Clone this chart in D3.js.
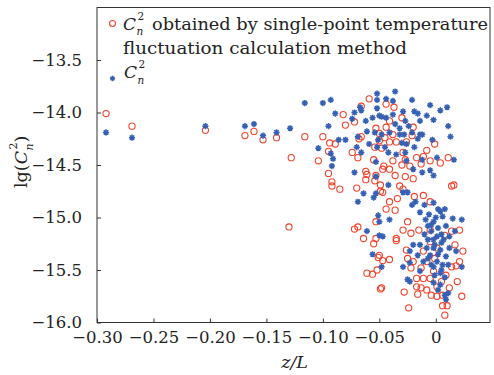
<!DOCTYPE html>
<html>
<head>
<meta charset="utf-8">
<script src="https://d3js.org/d3.v7.min.js"></script>
<style>
  body { margin: 0; background: #fff; }
  svg { display: block; font-family: "DejaVu Serif", serif; }
  .axis path, .axis line { stroke: #333; }
  .axis text { font-size: 16.5px; fill: #222; font-family: "DejaVu Serif", serif; }
</style>
</head>
<body>
<svg width="494" height="375"></svg>
<script>
// C_n^2 from single-point temperature fluctuation method (red circles)
var redZ = [-0.292,-0.269,-0.204,-0.169,-0.161,-0.153,-0.141,-0.128,-0.130,
  -0.059,-0.082,-0.080,-0.072,-0.116,-0.100,-0.094,-0.089,-0.066,-0.068,-0.053,
  -0.050,-0.095,-0.074,-0.069,-0.055,-0.104,-0.050,-0.045,-0.044,-0.037,-0.030,
  -0.041,-0.044,-0.020,-0.021,-0.038,-0.048,-0.041,-0.035,-0.026,-0.001,-0.008,
  -0.029,-0.011,-0.017,0.011,-0.027,-0.005,0.004,-0.038,-0.095,-0.092,-0.092,
  -0.085,-0.070,-0.062,-0.061,-0.062,-0.054,-0.053,-0.047,-0.049,-0.047,-0.053,
  -0.072,-0.069,-0.064,-0.046,-0.041,-0.030,-0.023,-0.013,-0.036,-0.027,-0.020,
  -0.049,-0.032,-0.029,0.014,0.016,-0.019,-0.011,-0.034,-0.041,-0.005,-0.036,
  -0.044,-0.025,-0.029,-0.022,-0.015,-0.005,0.008,0.014,0.021,-0.035,-0.053,
  -0.055,-0.050,-0.051,-0.061,-0.056,-0.052,-0.048,-0.049,-0.035,-0.041,-0.047,
  -0.026,-0.025,-0.022,0.017,0.024,0.021,0.019,0.012,0.023,-0.028,-0.017,-0.013,
  -0.016,-0.008,-0.004,0.001,0.001,0.006,-0.024,0.006,0.008,-0.011,-0.005,-0.017,
  -0.002,-0.013,-0.008,-0.020,-0.001,0.014,0.009,0.005,-0.005,0.001,-0.011,0.018,
  -0.066,-0.054,0.010];
var redLg = [-14.01,-14.13,-14.17,-14.22,-14.18,-14.26,-14.24,-14.43,-15.09,
  -13.87,-14.02,-14.12,-14.09,-14.23,-14.23,-14.29,-14.30,-14.23,-14.25,-14.15,
  -14.20,-14.37,-14.38,-14.43,-14.45,-14.46,-14.27,-14.24,-13.92,-13.95,-14.05,
  -14.08,-14.14,-14.14,-14.22,-14.21,-14.34,-14.28,-14.28,-14.28,-14.30,-14.36,
  -14.38,-14.42,-14.43,-14.43,-14.45,-14.46,-14.48,-14.46,-14.58,-14.66,-14.70,
  -14.73,-14.72,-14.56,-14.59,-14.64,-14.65,-14.60,-14.54,-14.75,-14.76,-15.04,
  -15.11,-15.09,-15.20,-14.51,-14.54,-14.50,-14.51,-14.49,-14.60,-14.61,-14.63,
  -14.69,-14.70,-14.73,-14.70,-14.69,-14.80,-14.79,-14.82,-14.85,-14.85,-14.93,
  -14.92,-15.04,-15.12,-15.15,-15.12,-15.12,-15.17,-15.13,-15.12,-15.20,-15.20,
  -15.25,-15.36,-15.38,-15.53,-15.54,-15.50,-15.67,-15.68,-15.22,-15.40,-15.41,
  -15.31,-15.39,-15.48,-15.26,-15.32,-15.42,-15.61,-15.67,-15.75,-15.71,-15.66,-15.67,
  -15.73,-15.69,-15.74,-15.66,-15.75,-15.74,-15.86,-15.84,-15.93,-15.58,-15.58,-15.58,
  -15.51,-15.48,-15.42,-15.42,-15.39,-15.47,-15.55,-15.61,-15.23,-15.29,-15.32,-15.46,
  -13.94,-14.33,-15.84];

// C_n^2 (blue stars)
var blueZ = [-0.292,-0.269,-0.204,-0.169,-0.161,-0.153,-0.141,-0.129,
  -0.116,-0.100,-0.093,-0.089,-0.095,-0.072,-0.067,-0.066,-0.074,-0.062,-0.061,
  -0.086,-0.080,-0.069,-0.104,-0.093,-0.091,-0.070,-0.059,-0.052,-0.052,-0.052,
  -0.056,-0.048,-0.051,-0.066,-0.052,-0.054,-0.036,-0.044,-0.038,-0.021,-0.005,
  0.004,0.010,-0.029,-0.019,-0.016,-0.008,-0.038,-0.050,-0.044,-0.014,-0.027,
  -0.002,0.011,-0.036,-0.032,-0.024,-0.048,-0.041,-0.032,-0.028,-0.014,-0.012,
  -0.021,0.013,-0.003,-0.016,-0.030,-0.026,-0.019,-0.045,-0.035,-0.027,0.001,
  0.016,-0.092,-0.072,-0.064,-0.069,-0.055,-0.053,-0.053,-0.051,-0.050,-0.061,
  -0.050,-0.026,-0.020,-0.012,-0.005,-0.002,-0.042,-0.029,-0.025,-0.018,-0.021,
  -0.014,-0.010,-0.002,0.002,0.008,0.006,-0.006,-0.002,-0.007,-0.004,0.001,0.015,
  0.023,-0.041,0.009,0.005,0.012,0.017,-0.010,-0.047,-0.056,-0.048,-0.029,-0.023,
  -0.025,-0.023,-0.014,-0.002,0.006,0.009,0.023,0.008,0.011,-0.001,0.004,-0.002,
  0.002,-0.007,-0.014,-0.020,0.005,-0.002,0.012,0.018,-0.023,-0.004,0.002,-0.001,
  0.004,-0.005,0.001,0.005,-0.002,0.004,-0.007,0.007,0.000,0.004,-0.009,-0.004,
  0.008,0.002,0.009,-0.011,-0.016,0.011,-0.008,-0.012,-0.042,-0.053];
var blueLg = [-14.19,-14.24,-14.13,-14.13,-14.11,-14.22,-14.19,-14.15,
  -13.91,-13.91,-13.88,-14.01,-14.13,-14.00,-13.95,-13.98,-14.06,-14.08,-14.18,
  -14.26,-14.26,-14.23,-14.34,-14.39,-14.44,-14.33,-14.30,-13.82,-13.88,-13.96,
  -14.05,-14.04,-14.26,-14.38,-14.33,-14.19,-13.80,-13.87,-13.89,-13.88,-13.93,
  -13.98,-13.95,-13.99,-13.99,-14.01,-14.03,-14.02,-14.03,-14.05,-14.08,-14.08,
  -14.07,-14.13,-14.11,-14.15,-14.13,-14.21,-14.19,-14.21,-14.21,-14.21,-14.21,
  -14.19,-14.23,-14.26,-14.25,-14.29,-14.30,-14.33,-14.33,-14.40,-14.38,-14.43,
  -14.45,-14.51,-14.57,-14.77,-14.85,-14.81,-14.77,-14.61,-14.98,-15.04,-15.13,
  -15.17,-14.46,-14.54,-14.57,-14.55,-14.60,-14.69,-14.76,-14.76,-14.85,-14.88,
  -14.95,-14.88,-14.86,-14.92,-14.92,-14.99,-14.97,-15.04,-15.08,-15.13,-15.18,-15.01,
  -15.02,-15.02,-15.08,-15.16,-15.18,-15.13,-15.16,-15.18,-15.35,-15.47,-15.47,-15.43,
  -15.59,-15.61,-15.51,-15.47,-15.45,-15.37,-15.47,-15.74,-15.72,-15.55,-15.53,-15.29,
  -15.35,-15.39,-15.26,-15.26,-15.24,-15.21,-15.29,-15.32,-15.32,-15.07,-15.10,-15.26,
  -15.31,-15.36,-15.42,-15.50,-15.62,-15.64,-15.21,-15.21,-15.00,-14.94,-15.02,-15.45,
  -15.57,-15.69,-15.78,-15.42,-15.36,-15.45,-15.29,-14.45,-14.38,-14.47];

var xTicks = [-0.30, -0.25, -0.20, -0.15, -0.10, -0.05, 0];
var yTicks = [-16.0, -15.5, -15.0, -14.5, -14.0, -13.5];
var legendLine1 = "obtained by single-point temperature";
var legendLine2 = "fluctuation calculation method";

var redColor = "#f2442c", blueColor = "#3560b4";

var svg = d3.select("svg"),
    margin = {top: 7.5, right: 4, bottom: 52.5, left: 97},
    width = 494 - margin.left - margin.right,
    height = 375 - margin.top - margin.bottom,
    g = svg.append("g").attr("transform", "translate(" + margin.left + "," + margin.top + ")");

var x = d3.scaleLinear().domain([-0.30, 0.048]).range([0, width]);
var y = d3.scaleLinear().domain([-16, -13]).range([height, 0]);

// axes, ticks pointing inward
g.append("g")
    .attr("class", "axis")
    .attr("transform", "translate(0," + height + ")")
    .call(d3.axisBottom(x).tickValues(xTicks).tickSize(-4).tickPadding(9)
      .tickFormat(function(d) { return d === 0 ? "0" : d3.format(".2f")(d); }))
    .call(function(s) { s.select(".domain").remove(); });

g.append("g")
    .attr("class", "axis")
    .call(d3.axisLeft(y).tickValues(yTicks).tickSize(-4).tickPadding(15).tickFormat(d3.format(".1f")))
    .call(function(s) { s.select(".domain").remove(); });

// frame
g.append("rect")
    .attr("width", width).attr("height", height)
    .attr("fill", "none").attr("stroke", "#333").attr("stroke-width", 1);

// 8-ray asterisk marker
var asterisk = {
  draw: function(ctx, size) {
    var r = Math.sqrt(size) / 2;
    for (var i = 0; i < 4; i++) {
      var a = i * Math.PI / 4;
      ctx.moveTo(-r * Math.cos(a), -r * Math.sin(a));
      ctx.lineTo(r * Math.cos(a), r * Math.sin(a));
    }
  }
};

var redData = redZ.map(function(d, i) { return [d, redLg[i]]; });
var blueData = blueZ.map(function(d, i) { return [d, blueLg[i]]; });

g.append("g").selectAll("circle")
    .data(redData)
  .enter().append("circle")
    .attr("cx", function(d) { return x(d[0]); })
    .attr("cy", function(d) { return y(d[1]); })
    .attr("r", 3.1)
    .attr("fill", "none")
    .attr("stroke", redColor)
    .attr("stroke-width", 1.1);

g.append("g").selectAll("path")
    .data(blueData)
  .enter().append("path")
    .attr("transform", function(d) { return "translate(" + x(d[0]) + "," + y(d[1]) + ")"; })
    .attr("d", d3.symbol().type(asterisk).size(38))
    .attr("fill", "none")
    .attr("stroke", blueColor)
    .attr("stroke-width", 1.5);

// C_n^2 label with stacked super/subscript placed right of the C
function cn2(parent, px, py, big, small) {
  var t = parent.append("text").attr("x", px).attr("y", py)
      .style("font-size", big + "px").style("font-style", "italic").text("C");
  var w = t.node().getComputedTextLength();
  parent.append("text").attr("x", px + w + 1.5).attr("y", py - big * 0.58)
      .style("font-size", small + "px").text("2");
  parent.append("text").attr("x", px + w + 0.5).attr("y", py + big * 0.35)
      .style("font-size", small + "px").style("font-style", "italic").text("n");
  return w + small * 0.6 + 2;
}

// legend
var leg = svg.append("g").attr("fill", "#222");
leg.append("circle").attr("cx", 112.5).attr("cy", 23.5).attr("r", 3)
    .attr("fill", "none").attr("stroke", redColor).attr("stroke-width", 1.1);
cn2(leg, 123, 29.5, 17, 10.5);
leg.append("text").attr("x", 152).attr("y", 29.5).style("font-size", "17.5px")
    .attr("textLength", 336).attr("lengthAdjust", "spacingAndGlyphs").text(legendLine1);
leg.append("text").attr("x", 123).attr("y", 54).style("font-size", "17.5px")
    .attr("textLength", 284).attr("lengthAdjust", "spacingAndGlyphs").text(legendLine2);
leg.append("path").attr("transform", "translate(112.5,78.5)")
    .attr("d", d3.symbol().type(asterisk).size(28))
    .attr("fill", "none").attr("stroke", blueColor).attr("stroke-width", 1.4);
cn2(leg, 124, 78, 17, 10.5);

// y axis label
var yl = svg.append("g").attr("fill", "#222").attr("transform", "translate(27,157) rotate(-90)");
var t1 = yl.append("text").attr("x", -31).attr("y", 0).style("font-size", "17.5px").text("lg(");
var w1 = t1.node().getComputedTextLength();
var w2 = cn2(yl, -31 + w1, 0, 17.5, 11);
yl.append("text").attr("x", -31 + w1 + w2).attr("y", 0).style("font-size", "17.5px").text(")");

// x axis label
svg.append("text")
    .attr("x", margin.left + x(-0.125)).attr("y", 368)
    .attr("text-anchor", "middle")
    .style("font-size", "17.5px").style("font-style", "italic").attr("fill", "#222")
    .text("z/L");
</script>
</body>
</html>
